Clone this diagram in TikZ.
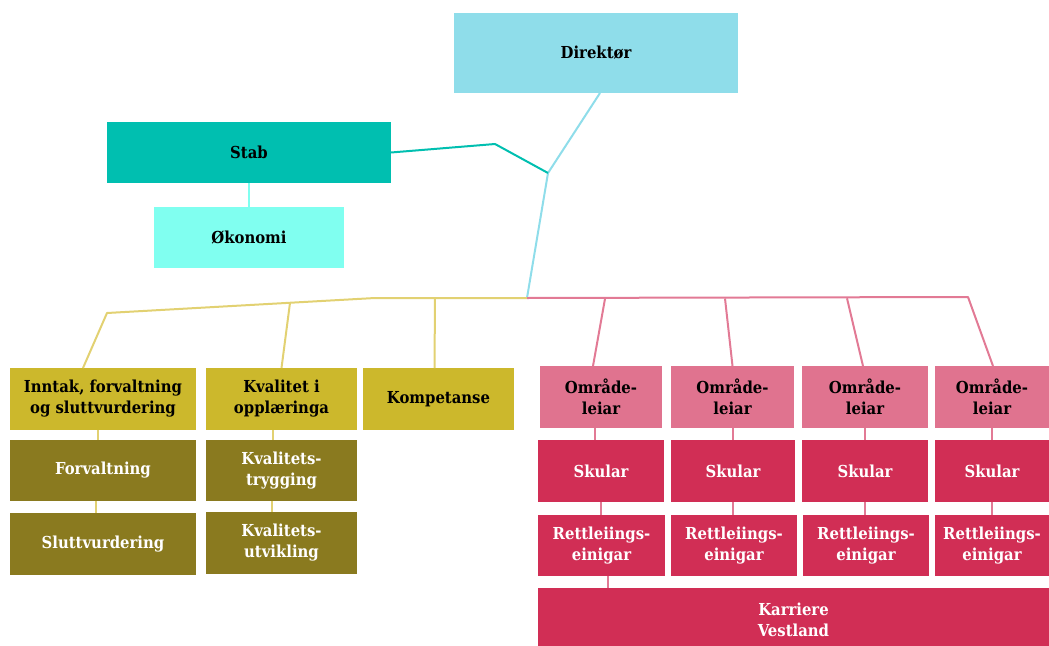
\documentclass[tikz,border=0pt]{standalone}
\usepackage{fontspec}
\setmainfont{DejaVu Serif Condensed}
\definecolor{cdir}{HTML}{8FDDEA}
\definecolor{cstab}{HTML}{00BFB0}
\definecolor{coko}{HTML}{80FFF0}
\definecolor{cyel}{HTML}{CCB82C}
\definecolor{coli}{HTML}{8A7A1F}
\definecolor{cpink}{HTML}{E0738F}
\definecolor{cred}{HTML}{D12E55}
\definecolor{lyel}{HTML}{E2D172}
\definecolor{lpink}{HTML}{E27A95}
\begin{document}
\begin{tikzpicture}[x=1pt,y=-1pt,
  box/.style={rectangle, inner sep=0pt, outer sep=0pt, anchor=north west, align=center,
    font=\fontsize{16.5}{21}\selectfont\bfseries},
  bw/.style={box, text=white},
  conn/.style={draw=#1, line width=2pt, line join=round}]
\useasboundingbox (0,0) rectangle (1049,645);
% top
\node[box, fill=cdir, minimum width=284pt, minimum height=80pt] (dir) at (454,13) {Direktør};
\node[box, fill=cstab, minimum width=284pt, minimum height=61pt] (stab) at (107,122) {Stab};
\node[box, fill=coko, minimum width=190pt, minimum height=61pt] (oko) at (154,207) {Økonomi};
% yellow group
\node[box, fill=cyel, minimum width=186pt, minimum height=62pt] (inn) at (10,368) {Inntak, forvaltning\\og sluttvurdering};
\node[box, fill=cyel, minimum width=151pt, minimum height=62pt] (kv) at (206,368) {Kvalitet i\\opplæringa};
\node[box, fill=cyel, minimum width=151pt, minimum height=62pt] (komp) at (363,368) {Kompetanse};
\node[bw, fill=coli, minimum width=186pt, minimum height=61pt] (forv) at (10,440) {Forvaltning};
\node[bw, fill=coli, minimum width=186pt, minimum height=62pt] (slutt) at (10,513) {Sluttvurdering};
\node[bw, fill=coli, minimum width=151pt, minimum height=61pt] (kvt) at (206,440) {Kvalitets-\\trygging};
\node[bw, fill=coli, minimum width=151pt, minimum height=62pt] (kvu) at (206,512) {Kvalitets-\\utvikling};
% pink group
\node[box, fill=cpink, minimum width=122pt, minimum height=62pt] (o1) at (540,366) {Område-\\leiar};
\node[box, fill=cpink, minimum width=123pt, minimum height=62pt] (o2) at (671,366) {Område-\\leiar};
\node[box, fill=cpink, minimum width=126pt, minimum height=62pt] (o3) at (802,366) {Område-\\leiar};
\node[box, fill=cpink, minimum width=114pt, minimum height=62pt] (o4) at (935,366) {Område-\\leiar};
\node[bw, fill=cred, minimum width=126pt, minimum height=62pt] (s1) at (538,440) {Skular};
\node[bw, fill=cred, minimum width=124pt, minimum height=62pt] (s2) at (671,440) {Skular};
\node[bw, fill=cred, minimum width=126pt, minimum height=62pt] (s3) at (802,440) {Skular};
\node[bw, fill=cred, minimum width=114pt, minimum height=62pt] (s4) at (935,440) {Skular};
\node[bw, fill=cred, minimum width=127pt, minimum height=61pt] (r1) at (538,515) {Rettleiings-\\einigar};
\node[bw, fill=cred, minimum width=126pt, minimum height=61pt] (r2) at (671,515) {Rettleiings-\\einigar};
\node[bw, fill=cred, minimum width=126pt, minimum height=61pt] (r3) at (803,515) {Rettleiings-\\einigar};
\node[bw, fill=cred, minimum width=114pt, minimum height=61pt] (r4) at (935,515) {Rettleiings-\\einigar};
\node[bw, fill=cred, minimum width=511pt, minimum height=63pt] (kar) at (538,588) {Karriere\\Vestland};
% junction coordinates
\coordinate (j0) at (495,144);
\coordinate (j1) at (548,173);
\coordinate (bus) at (527,298);
\coordinate (yb1) at (375,298);
\coordinate (yb2) at (107,313);
\coordinate (yk) at (290,302.8);
\coordinate (ykomp) at (435,298);
\coordinate (pb) at (968,297);
\coordinate (p1) at (605,298.8);
\coordinate (p2) at (725,298.5);
\coordinate (p3) at (847,298.3);
% connectors
\draw[conn=coko] (stab.south) -- (oko.north);
\draw[conn=cdir] ([xshift=4pt]dir.south) -- (j1) -- (bus);
\draw[conn=cstab] (stab.east) -- (j0) -- (j1);
\draw[conn=lyel] (bus) -- (yb1) -- (yb2) -- ([xshift=-20pt]inn.north);
\draw[conn=lyel] (yk) -- (kv.north);
\draw[conn=lyel] (ykomp) -- ([xshift=-4pt]komp.north);
\draw[conn=lyel] ([xshift=-5pt]inn.south) -- ([xshift=-5pt]forv.north);
\draw[conn=lyel] ([xshift=-7pt]forv.south) -- ([xshift=-7pt]slutt.north);
\draw[conn=lyel] ([xshift=-9pt]kv.south) -- ([xshift=-9pt]kvt.north);
\draw[conn=lyel] ([xshift=-10pt]kvt.south) -- ([xshift=-10pt]kvu.north);
\draw[conn=lpink] (bus) -- (pb) -- ([xshift=1pt]o4.north);
\draw[conn=lpink] (p1) -- ([xshift=-8pt]o1.north);
\draw[conn=lpink] (p2) -- (o2.north);
\draw[conn=lpink] (p3) -- ([xshift=-2pt]o3.north);
\draw[conn=lpink] ([xshift=-6pt]o1.south) -- ([xshift=-6pt]o1.south |- s1.north);
\foreach \i in {2,3,4} {
  \draw[conn=lpink] (o\i.south) -- (o\i.south |- s\i.north);
}
\foreach \i in {1,2,3,4} {
  \draw[conn=lpink] (s\i.south) -- (s\i.south |- r\i.north);
}
\draw[conn=lpink] ([xshift=6pt]r1.south) -- ([xshift=6pt]r1.south |- kar.north);
\end{tikzpicture}
\end{document}
